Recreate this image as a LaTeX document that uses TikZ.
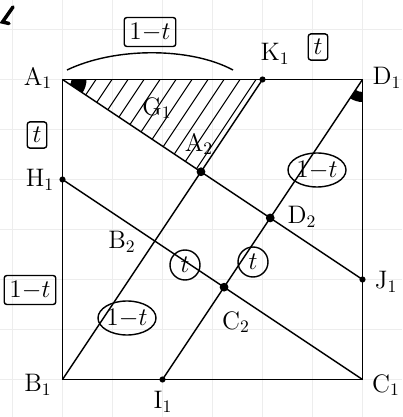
\documentclass[tikz,border=0pt]{standalone}
\usetikzlibrary{shapes.geometric, positioning}

\begin{document}
\begin{tikzpicture}[
    line width=0.8pt,
    every node/.style={font=\Large},
    pt/.style={circle, fill, inner sep=0pt, minimum size=5pt},
    small_pt/.style={circle, fill, inner sep=0pt, minimum size=3.5pt},
    box_lbl/.style={draw, rounded corners=1.5pt, inner sep=3pt, font=\Large},
    circ_lbl/.style={draw, ellipse, inner sep=0pt, minimum width=0.95cm, minimum height=0.68cm, font=\Large},
    circ_t/.style={draw, circle, inner sep=0pt, minimum size=0.6cm, font=\Large},
    grid_line/.style={gray!14, line width=0.5pt},
    hatch/.style={line width=0.6pt}
]
\useasboundingbox (0,0) rectangle (8.04,8.34);

% Papier
\foreach \x in {0.25,1.25,...,7.3} \draw[grid_line] (\x,0) -- (\x,8.34);
\foreach \y in {0.75,1.75,...,7.8} \draw[grid_line] (0,\y) -- (8.04,\y);

% Puntos
\coordinate (A1) at (1.25,6.75);
\coordinate (D1) at (7.25,6.75);
\coordinate (B1) at (1.25,0.75);
\coordinate (C1) at (7.25,0.75);
\coordinate (K1) at (5.25,6.75);
\coordinate (H1) at (1.25,4.75);
\coordinate (J1) at (7.25,2.75);
\coordinate (I1) at (3.25,0.75);
\coordinate (A2) at (intersection of A1--J1 and B1--K1);
\coordinate (D2) at (intersection of A1--J1 and I1--D1);
\coordinate (C2) at (intersection of H1--C1 and I1--D1);
\coordinate (B2) at (intersection of H1--C1 and B1--K1);

% Rayado
\begin{scope}
\clip (A1) -- (K1) -- (A2) -- cycle;
\foreach \x in {1.6,1.92,...,5.3} \draw[hatch] (\x,6.75) -- ++(-2,-3);
\end{scope}

% Cuadrado y rectas
\draw (A1) -- (D1) -- (C1) -- (B1) -- cycle;
\draw (A1) -- (J1);
\draw (B1) -- (K1);
\draw (H1) -- (C1);
\draw (I1) -- (D1);

% Angulos
\fill (A1) ++(-33.7:0.18) arc[start angle=-33.7, end angle=0, radius=0.18]
    -- ++(0:0.3) arc[start angle=0, end angle=-33.7, radius=0.48] -- cycle;
\fill (D1) ++(236.3:0.25) arc[start angle=236.3, end angle=270, radius=0.25]
    -- ++(270:0.2) arc[start angle=270, end angle=236.3, radius=0.45] -- cycle;

% Marcas
\node[pt] (pA2) at (A2) {};
\node[pt] (pD2) at (D2) {};
\node[pt] (pC2) at (C2) {};
\node[small_pt] (pK1) at (K1) {};
\node[small_pt] (pH1) at (H1) {};
\node[small_pt] (pJ1) at (J1) {};
\node[small_pt] (pI1) at (I1) {};

% Nombres
\node (lA1) at (0.76,6.78) {A$_1$};
\node (lD1) at (7.74,6.78) {D$_1$};
\node (lB1) at (0.76,0.64) {B$_1$};
\node (lC1) at (7.72,0.64) {C$_1$};
\node (lK1) at (5.5,7.26) {K$_1$};
\node (lH1) at (0.8,4.74) {H$_1$};
\node (lJ1) at (7.72,2.7) {J$_1$};
\node (lI1) at (3.26,0.3) {I$_1$};
\node (lA2) at (3.98,5.46) {A$_2$};
\node (lD2) at (6.04,4.0) {D$_2$};
\node (lC2) at (4.72,1.9) {C$_2$};
\node (lB2) at (2.44,3.5) {B$_2$};
\node (lG1) at (3.14,6.18) {G$_1$};

% Longitudes
\coordinate (arcL) at (1.34,6.94);
\coordinate (arcR) at (4.66,6.94);
\draw (arcL) .. controls (2.3,7.4) and (3.8,7.4) .. (arcR);
\node[box_lbl] (top_s) at (3.0,7.7) {$1{-}t$};
\node[box_lbl] (top_t) at (6.36,7.4) {$t$};
\node[box_lbl] (left_t) at (0.74,5.64) {$t$};
\node[box_lbl] (left_s) at (0.6,2.54) {$1{-}t$};
\node[circ_t] (in_t1) at (3.7,3.04) {$t$};
\node[circ_lbl] (in_s1) at (2.54,1.98) {$1{-}t$};
\node[circ_lbl] (in_s2) at (6.34,4.94) {$1{-}t$};
\node[circ_t] (in_t2) at (5.06,3.1) {$t$};

% Esquina
\draw[line width=2pt, line cap=round] (0.26,8.2) -- (0.05,7.9) -- (0.18,7.87);

\end{tikzpicture}
\end{document}
